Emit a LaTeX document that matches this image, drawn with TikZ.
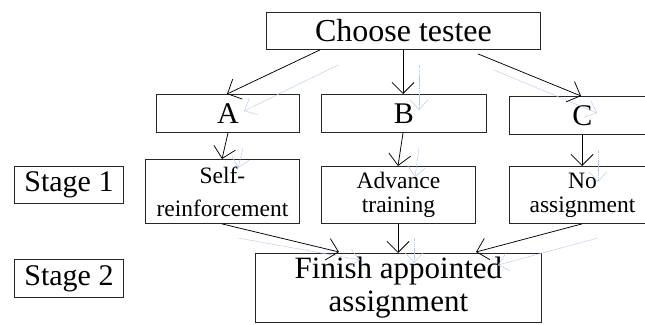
\documentclass[tikz,border=0pt]{standalone}
\usepackage{fontspec}
\setmainfont{Liberation Serif}
\usetikzlibrary{arrows.meta}
\definecolor{ghostc}{HTML}{B4CCEE}
\begin{document}
\begin{tikzpicture}[x=1pt,y=-1pt,
  box/.style={draw=black!85, line width=0.9pt, inner sep=0pt, anchor=north west, align=center},
  arr/.style={draw=black, line width=0.75pt, -{Straight Barb[length=11pt,width=22pt,line width=0.75pt]}},
  ghost/.style={draw=ghostc, line width=0.5pt, dash pattern=on 1.5pt off 0.4pt, -{Straight Barb[length=10pt,width=18pt,line width=0.5pt]}},
  fbig/.style={font=\fontsize{32}{33}\selectfont},
  ffin/.style={font=\fontsize{31}{33}\selectfont},
  fmid/.style={font=\fontsize{30}{32}\selectfont},
  fsmall/.style={font=\fontsize{23.5}{24}\selectfont},
  fself/.style={font=\fontsize{23.5}{33}\selectfont}
]
\clip (0,0) rectangle (645,324);
% nodes
\node[box, fbig, minimum width=274pt, minimum height=37pt] (choose) at (266,12) {Choose testee};
\node[box, fmid, minimum width=143pt, minimum height=38pt] (A) at (156,94) {A};
\node[box, fmid, minimum width=165pt, minimum height=38pt] (B) at (321,94) {B};
\node[box, fmid, minimum width=146pt, minimum height=38pt] (C) at (509,96) {C};
\node[box, fmid, minimum width=109pt, minimum height=37pt] (s1) at (14,166) {Stage 1};
\node[box, fmid, minimum width=109pt, minimum height=38pt] (s2) at (14,259) {Stage 2};
\node[box, fself, minimum width=154pt, minimum height=64pt] (self) at (145,159) {Self-\\reinforcement};
\node[box, fsmall, minimum width=154pt, minimum height=57pt] (adv) at (321,166) {Advance\\training};
\node[box, fsmall, minimum width=146pt, minimum height=57pt] (no) at (509,166) {No\\assignment};
\node[box, ffin, minimum width=286pt, minimum height=69pt] (fin) at (255,253) {Finish appointed\\assignment};
% ghost arrows
\coordinate (g1a) at (338,65);  \coordinate (g1b) at (244,111);
\coordinate (g2a) at (419,65);  \coordinate (g2b) at (419,110);
\coordinate (g3a) at (494,70);  \coordinate (g3b) at (597,113);
\coordinate (g4a) at (243,148); \coordinate (g4b) at (238,168);
\coordinate (g5a) at (419,148); \coordinate (g5b) at (415,177);
\coordinate (g6a) at (598,150); \coordinate (g6b) at (598,182);
\coordinate (g7a) at (238,238); \coordinate (g7b) at (360,260);
\coordinate (g8a) at (414,238); \coordinate (g8b) at (414,263);
\coordinate (g9a) at (598,238); \coordinate (g9b) at (498,265);
\foreach \g in {1,...,9} { \draw[ghost] (g\g a) -- (g\g b); }
% arrows
\draw[arr] ([xshift=54pt]choose.south west) -- ([xshift=71pt]A.north west);
\draw[arr] ([xshift=137pt]choose.south west) -- ([xshift=82pt]B.north west);
\draw[arr] ([xshift=212pt,yshift=-4pt]choose.south west) -- ([xshift=72pt]C.north west);
\draw[arr] ([xshift=72pt]A.south west) -- ([xshift=77pt]self.north west);
\draw[arr] ([xshift=82pt]B.south west) -- ([xshift=77pt]adv.north west);
\draw[arr] ([xshift=73pt]C.south west) -- ([xshift=73pt]no.north west);
\draw[arr] ([xshift=77pt]self.south west) -- ([xshift=84pt,yshift=1pt]fin.north west);
\draw[arr] ([xshift=77pt]adv.south west) -- ([xshift=143pt]fin.north west);
\draw[arr] ([xshift=73pt]no.south west) -- ([xshift=221pt,yshift=1pt]fin.north west);
\end{tikzpicture}
\end{document}
